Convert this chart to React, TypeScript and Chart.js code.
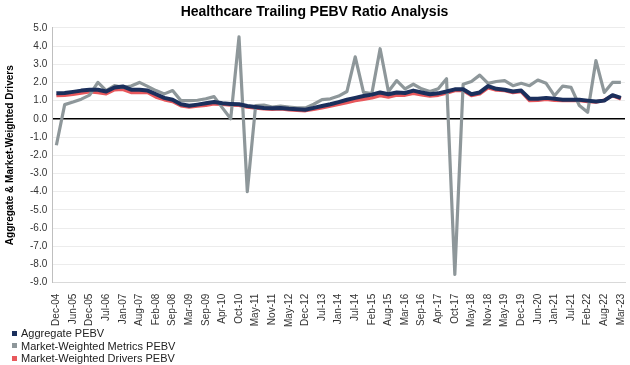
import React, { useEffect, useRef } from "react";
import { Chart, registerables } from "chart.js";

Chart.register(...registerables);

const tickLabels = [
  "Dec-04", "Jun-05", "Dec-05", "Jul-06", "Jan-07", "Aug-07", "Feb-08", "Sep-08",
  "Mar-09", "Sep-09", "Apr-10", "Oct-10", "May-11", "Nov-11", "May-12", "Dec-12",
  "Jul-13", "Jan-14", "Jul-14", "Feb-15", "Aug-15", "Mar-16", "Sep-16", "Apr-17",
  "Oct-17", "May-18", "Nov-18", "May-19", "Dec-19", "Jun-20", "Jan-21", "Jul-21",
  "Feb-22", "Aug-22", "Mar-23",
];

// one labelled data point followed by one unlabelled point between each tick label
const categories: string[] = tickLabels.flatMap((l, i) =>
  i < tickLabels.length - 1 ? [l, ""] : [l]
);

const aggregatePEBV = [
  1.40, 1.42, 1.48, 1.55, 1.60, 1.60, 1.50, 1.72, 1.78, 1.60,
  1.60, 1.55, 1.35, 1.15, 1.05, 0.80, 0.72, 0.78, 0.85, 0.92,
  0.85, 0.82, 0.80, 0.70, 0.65, 0.60, 0.58, 0.60, 0.55, 0.52,
  0.50, 0.60, 0.70, 0.80, 0.92, 1.05, 1.15, 1.25, 1.33, 1.45,
  1.35, 1.45, 1.42, 1.55, 1.45, 1.35, 1.40, 1.50, 1.62, 1.62,
  1.35, 1.45, 1.80, 1.65, 1.60, 1.50, 1.55, 1.10, 1.10, 1.15,
  1.10, 1.05, 1.05, 1.05, 1.00, 0.95, 1.00, 1.30, 1.15,
];

const metricsPEBV = [
  -1.45, 0.78, 0.92, 1.08, 1.30, 2.00, 1.55, 1.82, 1.73, 1.80,
  2.00, 1.78, 1.55, 1.37, 1.55, 1.00, 1.00, 1.02, 1.10, 1.22,
  0.60, 0.00, 4.50, -4.00, 0.72, 0.75, 0.65, 0.70, 0.65, 0.60,
  0.60, 0.80, 1.05, 1.10, 1.25, 1.50, 3.40, 1.45, 1.38, 3.85,
  1.50, 2.10, 1.65, 1.90, 1.65, 1.50, 1.65, 2.20, -8.55, 1.90,
  2.05, 2.40, 1.95, 2.05, 2.10, 1.82, 1.95, 1.82, 2.13, 1.95,
  1.27, 1.80, 1.73, 0.73, 0.36, 3.20, 1.45, 2.00, 2.00,
];

const driversPEBV = [
  1.28, 1.30, 1.35, 1.42, 1.48, 1.45, 1.38, 1.60, 1.62, 1.45,
  1.45, 1.45, 1.20, 1.05, 0.95, 0.72, 0.65, 0.70, 0.75, 0.82,
  0.80, 0.76, 0.75, 0.65, 0.60, 0.55, 0.52, 0.55, 0.50, 0.47,
  0.45, 0.52, 0.60, 0.70, 0.80, 0.90, 1.00, 1.08, 1.15, 1.28,
  1.20, 1.30, 1.30, 1.40, 1.32, 1.25, 1.30, 1.42, 1.55, 1.55,
  1.28, 1.38, 1.70, 1.58, 1.55, 1.45, 1.50, 1.00, 1.02, 1.08,
  1.02, 1.00, 1.00, 1.00, 0.95, 0.92, 1.02, 1.28, 1.10,
];

const seriesNames = [
  "Aggregate PEBV",
  "Market-Weighted Metrics PEBV",
  "Market-Weighted Drivers PEBV",
];
const seriesColors = ["#1b2f5c", "#8e979a", "#e8585c"];

const FONT = "'Liberation Sans', Arial, Helvetica, sans-serif";

export default function App() {
  const canvasRef = useRef<HTMLCanvasElement | null>(null);

  useEffect(() => {
    if (!canvasRef.current) return;
    const chart = new Chart(canvasRef.current, {
      type: "line",
      data: {
        labels: categories,
        datasets: [
          {
            label: seriesNames[0],
            data: aggregatePEBV,
            borderColor: seriesColors[0],
            backgroundColor: seriesColors[0],
            borderWidth: 4,
            pointRadius: 0,
            borderJoinStyle: "round",
            tension: 0,
          },
          {
            label: seriesNames[1],
            data: metricsPEBV,
            borderColor: seriesColors[1],
            backgroundColor: seriesColors[1],
            borderWidth: 3.2,
            pointRadius: 0,
            borderJoinStyle: "round",
            tension: 0,
          },
          {
            label: seriesNames[2],
            data: driversPEBV,
            borderColor: seriesColors[2],
            backgroundColor: seriesColors[2],
            borderWidth: 3.5,
            pointRadius: 0,
            borderJoinStyle: "round",
            tension: 0,
          },
        ],
      },
      options: {
        animation: false,
        responsive: true,
        maintainAspectRatio: false,
        layout: { padding: { left: 4, right: 5, top: 0, bottom: 35 } },
        plugins: {
          legend: { display: false },
          tooltip: { enabled: false },
          title: {
            display: true,
            text: "Healthcare Trailing PEBV Ratio Analysis",
            color: "#000",
            font: { family: FONT, size: 14, weight: "bold" },
            padding: { top: 4, bottom: 7 },
          },
        },
        scales: {
          x: {
            type: "category",
            offset: true,
            grid: { display: false },
            border: { display: true, color: "#d9d9d9" },
            afterFit: (s: any) => {
              s.paddingRight = 0;
              s.paddingLeft = 0;
            },
            ticks: {
              autoSkip: false,
              maxRotation: 90,
              minRotation: 90,
              padding: 3,
              color: "#333",
              font: { family: FONT, size: 10 },
              callback: (_v: any, i: number) => (i % 2 === 0 ? categories[i] : ""),
            },
          },
          y: {
            min: -9,
            max: 5,
            ticks: {
              stepSize: 1,
              padding: 5,
              color: "#333",
              font: { family: FONT, size: 10 },
              callback: (v: any) => Number(v).toFixed(1),
            },
            grid: {
              drawTicks: false,
              color: (ctx: any) =>
                ctx.tick && ctx.tick.value === 0 ? "#000000" : "#ececec",
              lineWidth: (ctx: any) => (ctx.tick && ctx.tick.value === 0 ? 1.5 : 1),
            },
            border: { display: true, color: "#bfbfbf", width: 1 },
            title: {
              display: true,
              text: "Aggregate & Market-Weighted Drivers",
              color: "#000",
              font: { family: FONT, size: 10, weight: "bold" },
              padding: { top: 0, bottom: 9 },
            },
          },
        },
      },
    });
    return () => chart.destroy();
  }, []);

  return (
    <div
      style={{
        position: "absolute",
        left: 0,
        top: 0,
        width: 630,
        height: 365,
        background: "#fff",
        overflow: "hidden",
      }}
    >
      <canvas ref={canvasRef} />
      <div
        style={{
          position: "absolute",
          left: 12,
          top: 327,
          fontFamily: FONT,
          fontSize: 11,
          lineHeight: "12.5px",
          color: "#222",
        }}
      >
        {seriesNames.map((n, i) => (
          <div key={n} style={{ display: "flex", alignItems: "center" }}>
            <span
              style={{
                display: "inline-block",
                width: 5,
                height: 5,
                background: seriesColors[i],
                marginRight: 4,
              }}
            />
            <span>{n}</span>
          </div>
        ))}
      </div>
    </div>
  );
}
